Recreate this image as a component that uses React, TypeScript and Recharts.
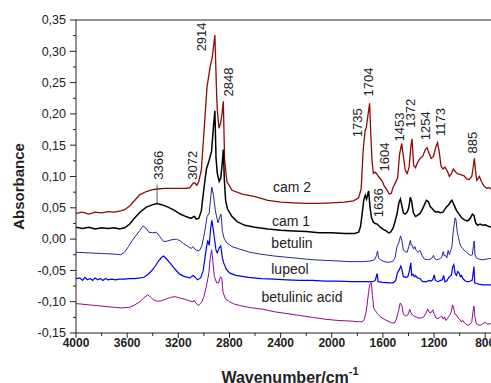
import React from 'react'
import { LineChart, Line, XAxis, YAxis, ReferenceDot, ReferenceLine } from 'recharts'

// wavenumber (cm-1) / absorbance pairs
const CAM2 = [
  [4000, 0.041], [3950, 0.043], [3900, 0.040], [3850, 0.043], [3800, 0.042], [3750, 0.044], [3700, 0.043],
  [3650, 0.045], [3620, 0.047], [3580, 0.053], [3540, 0.062], [3500, 0.071], [3450, 0.076], [3400, 0.079],
  [3366, 0.080], [3300, 0.081], [3250, 0.081], [3200, 0.081], [3150, 0.081], [3110, 0.082], [3085, 0.089],
  [3072, 0.090], [3055, 0.086], [3040, 0.092], [3020, 0.110], [3000, 0.169], [2975, 0.244], [2950, 0.276],
  [2935, 0.290], [2914, 0.326], [2900, 0.230], [2895, 0.206], [2882, 0.177], [2870, 0.185], [2858, 0.200],
  [2848, 0.220], [2838, 0.127], [2820, 0.092], [2780, 0.078], [2700, 0.072], [2600, 0.068], [2500, 0.062],
  [2400, 0.059], [2300, 0.058], [2200, 0.057], [2100, 0.057], [2000, 0.058], [1900, 0.059], [1830, 0.061],
  [1790, 0.066], [1770, 0.080], [1755, 0.140], [1740, 0.172], [1730, 0.178], [1704, 0.217], [1695, 0.170],
  [1685, 0.125], [1675, 0.105], [1660, 0.107], [1648, 0.104], [1635, 0.100], [1618, 0.096], [1604, 0.092],
  [1590, 0.085], [1570, 0.079], [1550, 0.072], [1535, 0.073], [1520, 0.083], [1500, 0.091], [1485, 0.098],
  [1470, 0.135], [1453, 0.153], [1440, 0.132], [1425, 0.110], [1410, 0.105], [1395, 0.115], [1380, 0.150],
  [1372, 0.160], [1360, 0.118], [1345, 0.114], [1330, 0.122], [1310, 0.129], [1290, 0.132], [1268, 0.143],
  [1254, 0.146], [1240, 0.137], [1222, 0.129], [1205, 0.132], [1185, 0.148], [1173, 0.154], [1160, 0.140],
  [1145, 0.116], [1130, 0.112], [1115, 0.115], [1095, 0.108], [1080, 0.100], [1065, 0.104], [1050, 0.112],
  [1035, 0.108], [1015, 0.104], [990, 0.103], [965, 0.101], [945, 0.096], [925, 0.095], [905, 0.100],
  [893, 0.116], [885, 0.129], [876, 0.110], [866, 0.094], [855, 0.097], [845, 0.100], [830, 0.092],
  [810, 0.085], [790, 0.081], [770, 0.082], [750, 0.080], [720, 0.081], [700, 0.080],
]

const CAM1 = [
  [4000, 0.019], [3950, 0.017], [3900, 0.019], [3850, 0.016], [3800, 0.018], [3750, 0.017], [3700, 0.018],
  [3660, 0.016], [3620, 0.018], [3580, 0.024], [3540, 0.034], [3500, 0.043], [3450, 0.051], [3400, 0.055],
  [3366, 0.057], [3330, 0.055], [3280, 0.051], [3230, 0.046], [3185, 0.040], [3140, 0.036], [3100, 0.033],
  [3080, 0.036], [3072, 0.036], [3060, 0.032], [3040, 0.033], [3020, 0.045], [3000, 0.080], [2980, 0.112],
  [2960, 0.125], [2940, 0.140], [2925, 0.180], [2914, 0.205], [2905, 0.130], [2895, 0.105], [2880, 0.092],
  [2868, 0.097], [2855, 0.125], [2848, 0.143], [2840, 0.095], [2830, 0.062], [2815, 0.048], [2780, 0.036],
  [2740, 0.028], [2680, 0.022], [2600, 0.019], [2500, 0.016], [2400, 0.014], [2300, 0.013], [2200, 0.012],
  [2100, 0.010], [2000, 0.010], [1900, 0.009], [1820, 0.009], [1790, 0.011], [1775, 0.020], [1765, 0.036],
  [1750, 0.062], [1738, 0.070], [1728, 0.064], [1718, 0.072], [1712, 0.077], [1700, 0.050], [1690, 0.035],
  [1675, 0.027], [1660, 0.025], [1645, 0.024], [1636, 0.022], [1620, 0.019], [1600, 0.016], [1575, 0.013],
  [1555, 0.010], [1540, 0.011], [1520, 0.018], [1505, 0.028], [1490, 0.040], [1475, 0.058], [1463, 0.064],
  [1450, 0.052], [1440, 0.042], [1425, 0.040], [1410, 0.043], [1398, 0.050], [1385, 0.067], [1375, 0.060],
  [1362, 0.042], [1345, 0.036], [1330, 0.038], [1310, 0.041], [1295, 0.046], [1275, 0.055], [1260, 0.062],
  [1245, 0.060], [1230, 0.052], [1215, 0.049], [1200, 0.045], [1185, 0.043], [1170, 0.044], [1150, 0.042],
  [1130, 0.043], [1115, 0.048], [1100, 0.052], [1085, 0.055], [1070, 0.060], [1060, 0.062], [1045, 0.055],
  [1025, 0.046], [1005, 0.040], [985, 0.034], [965, 0.031], [945, 0.029], [930, 0.030], [915, 0.034],
  [900, 0.040], [888, 0.038], [875, 0.026], [860, 0.022], [840, 0.024], [820, 0.022], [800, 0.023],
  [770, 0.020], [740, 0.019], [700, 0.019],
]

const BETULIN = [
  [4000, -0.021], [3900, -0.022], [3800, -0.023], [3700, -0.024], [3650, -0.025], [3620, -0.021],
  [3590, -0.012], [3560, -0.002], [3530, 0.006], [3500, 0.014], [3475, 0.021], [3455, 0.018], [3430, 0.011],
  [3400, 0.010], [3370, 0.011], [3345, 0.004], [3315, -0.004], [3285, -0.003], [3250, -0.001], [3215, 0.000],
  [3185, -0.003], [3160, -0.007], [3130, -0.011], [3100, -0.015], [3085, -0.012], [3070, -0.016],
  [3045, -0.019], [3030, -0.017], [3015, -0.010], [2995, 0.010], [2975, 0.036], [2958, 0.042], [2945, 0.070],
  [2938, 0.083], [2925, 0.070], [2910, 0.045], [2890, 0.026], [2875, 0.036], [2866, 0.040], [2855, 0.012],
  [2840, 0.000], [2820, -0.006], [2780, -0.012], [2720, -0.016], [2640, -0.021], [2560, -0.024],
  [2450, -0.027], [2350, -0.029], [2250, -0.031], [2150, -0.033], [2050, -0.034], [1950, -0.035],
  [1850, -0.036], [1760, -0.036], [1700, -0.035], [1665, -0.033], [1650, -0.026], [1642, -0.019],
  [1634, -0.030], [1620, -0.033], [1590, -0.036], [1555, -0.037], [1525, -0.036], [1505, -0.030],
  [1490, -0.012], [1475, -0.005], [1462, 0.005], [1450, -0.004], [1440, -0.018], [1425, -0.020],
  [1410, -0.021], [1398, -0.012], [1385, -0.002], [1378, -0.010], [1370, -0.010], [1360, -0.016],
  [1350, -0.012], [1340, -0.018], [1325, -0.021], [1310, -0.018], [1295, -0.026], [1275, -0.032],
  [1250, -0.033], [1230, -0.032], [1215, -0.030], [1205, -0.026], [1195, -0.031], [1180, -0.033],
  [1160, -0.032], [1140, -0.029], [1128, -0.020], [1120, -0.027], [1110, -0.026], [1100, -0.030],
  [1090, -0.018], [1080, -0.025], [1070, -0.018], [1060, -0.012], [1052, 0.008], [1045, 0.020],
  [1035, 0.034], [1028, 0.030], [1018, 0.010], [1010, 0.004], [1000, -0.006], [990, -0.012], [975, -0.015],
  [960, -0.019], [945, -0.021], [930, -0.024], [915, -0.026], [900, -0.025], [892, -0.010], [886, -0.003],
  [880, -0.025], [870, -0.030], [850, -0.032], [820, -0.033], [790, -0.032], [760, -0.031], [730, -0.032],
  [700, -0.031],
]

const LUPEOL = [
  [4000, -0.063], [3970, -0.062], [3950, -0.066], [3930, -0.061], [3910, -0.065], [3890, -0.063],
  [3870, -0.066], [3850, -0.062], [3830, -0.065], [3810, -0.063], [3790, -0.066], [3770, -0.063],
  [3750, -0.065], [3720, -0.064], [3690, -0.065], [3660, -0.064], [3620, -0.064], [3580, -0.063],
  [3540, -0.063], [3500, -0.062], [3470, -0.061], [3440, -0.057], [3410, -0.051], [3380, -0.043],
  [3355, -0.035], [3330, -0.029], [3315, -0.027], [3295, -0.031], [3265, -0.038], [3230, -0.047],
  [3190, -0.056], [3150, -0.060], [3110, -0.062], [3085, -0.058], [3072, -0.060], [3050, -0.065],
  [3025, -0.062], [3005, -0.050], [2985, -0.020], [2970, -0.002], [2958, -0.010], [2948, 0.015],
  [2938, 0.030], [2930, 0.020], [2920, 0.005], [2905, -0.018], [2895, -0.022], [2880, -0.014],
  [2868, -0.011], [2855, -0.030], [2845, -0.038], [2825, -0.048], [2800, -0.054], [2750, -0.058],
  [2650, -0.061], [2550, -0.063], [2450, -0.064], [2350, -0.065], [2250, -0.066], [2150, -0.066],
  [2050, -0.067], [1950, -0.067], [1850, -0.068], [1750, -0.068], [1680, -0.068], [1660, -0.066],
  [1645, -0.055], [1638, -0.068], [1600, -0.069], [1550, -0.070], [1520, -0.070], [1500, -0.066],
  [1488, -0.055], [1470, -0.048], [1460, -0.043], [1450, -0.050], [1440, -0.060], [1420, -0.061],
  [1405, -0.060], [1392, -0.050], [1382, -0.038], [1375, -0.058], [1365, -0.056], [1355, -0.060],
  [1345, -0.058], [1330, -0.062], [1310, -0.063], [1290, -0.068], [1260, -0.068], [1240, -0.066],
  [1225, -0.067], [1210, -0.065], [1198, -0.057], [1190, -0.066], [1170, -0.068], [1150, -0.066],
  [1135, -0.065], [1125, -0.058], [1115, -0.068], [1100, -0.067], [1090, -0.063], [1080, -0.060],
  [1065, -0.058], [1055, -0.045], [1045, -0.041], [1035, -0.055], [1025, -0.058], [1015, -0.052],
  [1005, -0.054], [995, -0.060], [985, -0.058], [975, -0.063], [960, -0.066], [945, -0.068], [930, -0.068],
  [915, -0.067], [902, -0.066], [888, -0.044], [882, -0.070], [870, -0.071], [850, -0.072], [820, -0.073],
  [790, -0.073], [760, -0.073], [730, -0.074], [700, -0.074],
]

const BETULINIC = [
  [4000, -0.103], [3900, -0.105], [3800, -0.107], [3700, -0.109], [3640, -0.110], [3580, -0.109],
  [3540, -0.105], [3500, -0.100], [3470, -0.094], [3440, -0.089], [3420, -0.092], [3395, -0.097],
  [3370, -0.099], [3340, -0.099], [3300, -0.096], [3260, -0.093], [3225, -0.092], [3190, -0.094],
  [3150, -0.096], [3110, -0.099], [3085, -0.100], [3075, -0.098], [3060, -0.103], [3042, -0.106],
  [3020, -0.102], [3000, -0.092], [2980, -0.075], [2962, -0.055], [2950, -0.030], [2940, -0.017],
  [2930, -0.035], [2918, -0.060], [2900, -0.070], [2885, -0.070], [2870, -0.060], [2860, -0.062],
  [2850, -0.085], [2830, -0.096], [2800, -0.100], [2760, -0.104], [2700, -0.107], [2620, -0.110],
  [2540, -0.112], [2450, -0.116], [2350, -0.119], [2250, -0.122], [2150, -0.125], [2050, -0.128],
  [1950, -0.130], [1850, -0.131], [1790, -0.132], [1760, -0.132], [1745, -0.128], [1730, -0.115],
  [1712, -0.085], [1702, -0.072], [1690, -0.070], [1682, -0.090], [1672, -0.110], [1660, -0.114],
  [1650, -0.117], [1640, -0.120], [1620, -0.124], [1590, -0.128], [1560, -0.131], [1530, -0.134],
  [1510, -0.134], [1495, -0.128], [1480, -0.117], [1465, -0.102], [1452, -0.106], [1440, -0.120],
  [1420, -0.123], [1405, -0.121], [1390, -0.112], [1380, -0.118], [1365, -0.122], [1345, -0.124],
  [1325, -0.126], [1300, -0.126], [1280, -0.124], [1262, -0.118], [1250, -0.112], [1238, -0.117],
  [1225, -0.118], [1210, -0.113], [1198, -0.120], [1185, -0.126], [1170, -0.127], [1150, -0.124],
  [1140, -0.123], [1128, -0.128], [1118, -0.124], [1108, -0.130], [1095, -0.127], [1080, -0.122],
  [1068, -0.118], [1055, -0.105], [1045, -0.112], [1037, -0.120], [1025, -0.121], [1012, -0.126],
  [1000, -0.128], [990, -0.132], [975, -0.130], [962, -0.134], [950, -0.136], [935, -0.138], [920, -0.136],
  [905, -0.132], [895, -0.115], [888, -0.107], [880, -0.125], [870, -0.135], [855, -0.137], [840, -0.138],
  [820, -0.135], [800, -0.133], [780, -0.136], [760, -0.135], [740, -0.134], [720, -0.135], [700, -0.135],
]

const X_MAJOR = [4000, 3600, 3200, 2800, 2400, 2000, 1600, 1200, 800]
const X_MINOR = [3800, 3400, 3000, 2600, 2200, 1800, 1400, 1000]
const Y_MAJOR = [-0.15, -0.1, -0.05, 0, 0.05, 0.1, 0.15, 0.2, 0.25, 0.3, 0.35]
const Y_MINOR = [-0.125, -0.075, -0.025, 0.025, 0.075, 0.125, 0.175, 0.225, 0.275, 0.325]

// peak annotations: [text, wavenumber, absorbance] where the rotated label sits
const PEAK_LABELS: [string, number, number][] = [
  ['3366', 3352, 0.118],
  ['3072', 3085, 0.118],
  ['2914', 3022, 0.323],
  ['2848', 2811, 0.251],
  ['1735', 1795, 0.186],
  ['1704', 1709, 0.251],
  ['1604', 1584, 0.131],
  ['1636', 1631, 0.058],
  ['1453', 1474, 0.179],
  ['1372', 1388, 0.201],
  ['1254', 1263, 0.181],
  ['1173', 1146, 0.187],
  ['885', 903, 0.154],
]

const SERIES_LABELS: [string, number, number][] = [
  ['cam 2', 2311, 0.083],
  ['cam 1', 2319, 0.029],
  ['betulin', 2311, -0.006],
  ['lupeol', 2327, -0.048],
  ['betulinic acid', 2233, -0.0925],
]

const SERIES = [
  { name: 'cam 2', points: CAM2, color: '#8e0a0a', width: 1.3 },
  { name: 'cam 1', points: CAM1, color: '#000000', width: 1.5 },
  { name: 'betulin', points: BETULIN, color: '#25259c', width: 1 },
  { name: 'lupeol', points: LUPEOL, color: '#0000f0', width: 1.2 },
  { name: 'betulinic acid', points: BETULINIC, color: '#8b0b8b', width: 1 },
]

const FONT = 'Arial, "Liberation Sans", sans-serif'
const INK = '#222'

const fmtY = (v: number) => v.toFixed(2).replace('.', ',')

function YTick(props: any) {
  const { x, y, payload } = props
  const major = Y_MAJOR.includes(payload.value)
  return (
    <g>
      <line x1={x - (major ? 6 : 3)} x2={x} y1={y} y2={y} stroke={INK} />
      {major && (
        <text x={x - 10} y={y} dy="0.35em" textAnchor="end" fontSize={12.5} fill={INK} fontFamily={FONT}>
          {fmtY(payload.value)}
        </text>
      )}
    </g>
  )
}

function XTick(props: any) {
  const { x, y, payload } = props
  const major = X_MAJOR.includes(payload.value)
  return (
    <g>
      <line x1={x} x2={x} y1={y} y2={y + (major ? 5 : 3)} stroke={INK} />
      {major && (
        <text x={x} y={y + 14} textAnchor="middle" fontSize={12} fontWeight="bold" fill={INK} fontFamily={FONT}>
          {payload.value}
        </text>
      )}
    </g>
  )
}

export default function App() {
  return (
    <div style={{ position: 'absolute', left: 0, top: 0, width: 491, height: 383, overflow: 'hidden', background: '#fff' }}>
      <LineChart width={520} height={383} margin={{ top: 20, right: 22, bottom: 0, left: 0 }} style={{ fontFamily: FONT }}>
        <XAxis
          dataKey="x"
          type="number"
          domain={[700, 4000]}
          reversed
          ticks={[...X_MAJOR, ...X_MINOR]}
          interval={0}
          height={50}
          tickSize={0}
          tickMargin={0}
          tickLine={false}
          tick={XTick}
          axisLine={{ stroke: INK }}
          allowDataOverflow
          label={{
            content: (p: any) => {
              const vb = p.viewBox
              return (
                <text x={vb.x + vb.width / 2 + 3} y={vb.y + 50} textAnchor="middle" fontSize={16} fontWeight="bold" fill={INK} fontFamily={FONT}>
                  <tspan>Wavenumber/cm</tspan>
                  <tspan dy={-8} fontSize={11}>-1</tspan>
                </text>
              )
            },
          }}
        />
        <YAxis
          type="number"
          domain={[-0.15, 0.35]}
          ticks={[...Y_MAJOR, ...Y_MINOR]}
          interval={0}
          width={76}
          tickSize={0}
          tickMargin={0}
          tickLine={false}
          tick={YTick}
          axisLine={{ stroke: INK }}
          allowDataOverflow
          label={{
            content: (p: any) => {
              const vb = p.viewBox
              const cx = 18
              const cy = vb.y + vb.height / 2 + 10
              return (
                <text x={cx} y={cy} transform={`rotate(-90, ${cx}, ${cy})`} textAnchor="middle" dominantBaseline="central" fontSize={15} fontWeight="bold" fill={INK} fontFamily={FONT}>
                  Absorbance
                </text>
              )
            },
          }}
        />
        <ReferenceLine y={0.35} stroke={INK} />
        {SERIES.map((s) => (
          <Line
            key={s.name}
            data={s.points.map(([x, y]) => ({ x, y }))}
            dataKey="y"
            type="linear"
            stroke={s.color}
            strokeWidth={s.width}
            dot={false}
            isAnimationActive={false}
          />
        ))}
        <ReferenceLine segment={[{ x: 3366, y: 0.057 }, { x: 3366, y: 0.087 }]} stroke="#555" strokeWidth={1} />
        {PEAK_LABELS.map(([t, wn, v]) => (
          <ReferenceDot
            key={t}
            x={wn}
            y={v}
            r={0}
            shape={(p: any) => (
              <text x={p.cx} y={p.cy} transform={`rotate(-90, ${p.cx}, ${p.cy})`} textAnchor="middle" dominantBaseline="central" fontSize={13} fill={INK} fontFamily={FONT}>
                {t}
              </text>
            )}
          />
        ))}
        {SERIES_LABELS.map(([t, wn, v]) => (
          <ReferenceDot
            key={t}
            x={wn}
            y={v}
            r={0}
            shape={(p: any) => (
              <text x={p.cx} y={p.cy} textAnchor="middle" dominantBaseline="central" fontSize={14} fill={INK} fontFamily={FONT}>
                {t}
              </text>
            )}
          />
        ))}
      </LineChart>
    </div>
  )
}
